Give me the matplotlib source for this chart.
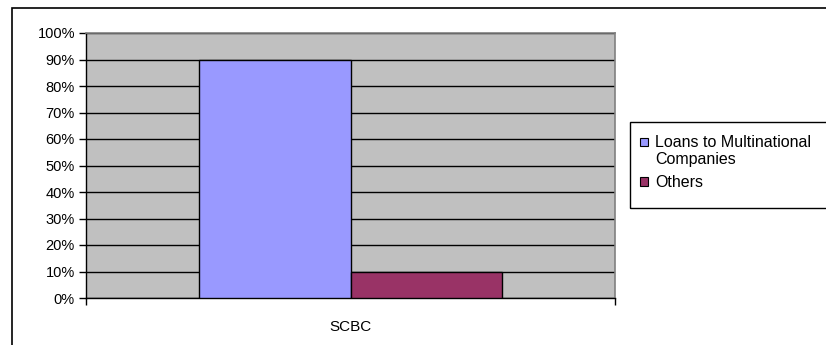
import matplotlib.pyplot as plt
from matplotlib.patches import Rectangle
from matplotlib.legend_handler import HandlerPatch

categories = ["SCBC"]
series_names = ["Loans to Multinational\nCompanies", "Others"]
series_values = [90, 10]
series_colors = ["#9999FF", "#993366"]
y_ticks = [0, 10, 20, 30, 40, 50, 60, 70, 80, 90, 100]
y_tick_labels = ["%d%%" % t for t in y_ticks]

plt.rcParams['font.family'] = ['Liberation Sans', 'DejaVu Sans']

W, H = 826, 345
fig = plt.figure(figsize=(W / 100, H / 100), dpi=100)


def px(x0, y0, x1, y1):
    # pixel box (top-left origin) -> figure fraction rect
    return [x0 / W, 1 - y1 / H, (x1 - x0) / W, (y1 - y0) / H]


# outer chart border (cut off at right and bottom as in the reference)
fig.patches.append(Rectangle((12 / W, -0.05), 1.0, (1 - 8 / H) + 0.05,
                             transform=fig.transFigure, fill=False,
                             edgecolor="black", linewidth=1.2, clip_on=False))

ax = fig.add_axes(px(86, 33, 615, 298))
ax.set_facecolor("#C0C0C0")

bar_w = 0.2855
n = len(series_values)
handles = []
for i, (name, val, col) in enumerate(zip(series_names, series_values, series_colors)):
    offset = (i - (n - 1) / 2) * bar_w
    ax.bar(0 + offset, val, width=bar_w, color=col, edgecolor="black",
           linewidth=1.0, zorder=3)
    handles.append(Rectangle((0, 0), 1, 1, facecolor=col, edgecolor="black",
                             linewidth=0.8, label=name))

ax.set_xlim(-0.5, 0.5)
ax.set_ylim(0, 100)
ax.set_yticks(y_ticks)
ax.set_yticklabels(y_tick_labels, fontsize=10.5)
ax.yaxis.grid(True, color="black", linewidth=1.0, zorder=1)
ax.set_axisbelow(True)

ax.set_xticks([-0.5, 0.5])
ax.set_xticklabels(["", ""])
ax.tick_params(axis="x", length=5, width=1, color="black")
ax.tick_params(axis="y", length=5, width=1, color="black", pad=3)
ax.text(0, -0.11, categories[0], transform=ax.get_xaxis_transform(),
        ha="center", va="center", fontsize=11)

for side in ["top", "right"]:
    ax.spines[side].set_color("#808080")
    ax.spines[side].set_linewidth(1.2)
for side in ["left", "bottom"]:
    ax.spines[side].set_color("black")
    ax.spines[side].set_linewidth(1.0)


# small square marker, put level with the first line of a wrapped label
def square_marker(legend, orig_handle, xdescent, ydescent, width, height, fontsize):
    s = fontsize * 0.52
    lines = orig_handle.get_label().count("\n")
    y = -ydescent + (height - s) / 2 + lines * fontsize * 0.58
    return Rectangle((-xdescent, y), s, s)


# legend box
fig.patches.append(Rectangle((630 / W, 1 - 208 / H), 0.3, (208 - 122) / H,
                             transform=fig.transFigure, fill=False,
                             edgecolor="black", linewidth=1.0, clip_on=False))
leg = fig.legend(handles=handles, loc="upper left",
                 bbox_to_anchor=(627 / W, 1 - 122 / H),
                 frameon=False, fontsize=11.5, handlelength=0.52,
                 handleheight=0.6, handletextpad=0.45, labelspacing=0.5,
                 borderpad=0.3,
                 handler_map={Rectangle: HandlerPatch(patch_func=square_marker)})

fig.savefig("out.png", dpi=100)
